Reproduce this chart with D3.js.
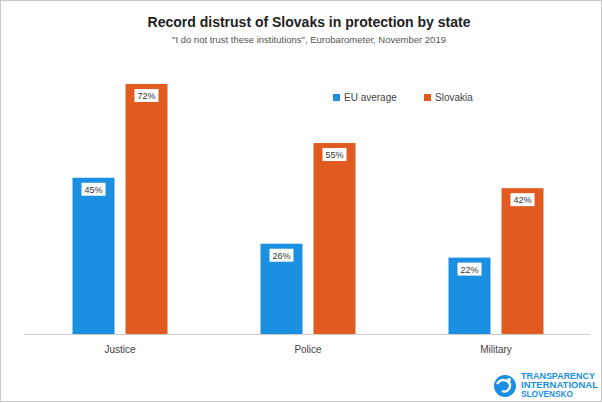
<!DOCTYPE html>
<html><head><meta charset="utf-8">
<script src="https://cdn.jsdelivr.net/npm/d3@7"></script>
<style>html,body{margin:0;padding:0;background:#fff;}svg{display:block;font-family:"Liberation Sans",Arial,sans-serif;}</style>
</head><body>
<svg id="c" width="602" height="403"></svg>
<script>
const categories = ["Justice", "Police", "Military"];
const seriesNames = ["EU average", "Slovakia"];
const euAverage = [45, 26, 22];
const slovakia = [72, 55, 42];
const colors = ["#1b8fe2", "#e15a20"];

const svg = d3.select("#c");
const W = 602, H = 403;
svg.append("rect").attr("x",0.5).attr("y",0.5).attr("width",W-1).attr("height",H-2)
  .attr("fill","#fff").attr("stroke","#c8c8c8");

const baseY = 334;
const x = d3.scaleBand().domain(categories).range([26, 590]);
const y = d3.scaleLinear().domain([0, 72]).range([baseY, 84]);

svg.append("text").attr("x",309).attr("y",27).attr("text-anchor","middle")
  .attr("font-size",14).attr("font-weight","bold").attr("fill","#222")
  .text("Record distrust of Slovaks in protection by state");
svg.append("text").attr("x",309).attr("y",43).attr("text-anchor","middle")
  .attr("font-size",9.5).attr("fill","#555")
  .text("\"I do not trust these institutions\", Eurobarometer, November 2019");

// axis
const xAxis = d3.axisBottom(x).tickSize(0).tickPadding(12);
const ax = svg.append("g").attr("transform",`translate(0,${baseY})`).call(xAxis);
ax.select(".domain").attr("stroke","#ccc").attr("d","M24,0.5H590");
ax.selectAll("text").attr("font-size",10).attr("fill","#444").attr("font-family","Liberation Sans, Arial, sans-serif");

const data = categories.map((c,i)=>({cat:c, vals:[euAverage[i], slovakia[i]]}));
const barW = 42, gap = 11;
data.forEach(d=>{
  const cx = x(d.cat) + x.bandwidth()/2;
  d.vals.forEach((v,j)=>{
    const bx = j===0 ? cx - gap/2 - barW : cx + gap/2;
    svg.append("rect").attr("x",bx).attr("y",y(v)).attr("width",barW).attr("height",baseY - y(v))
      .attr("fill",colors[j]);
    svg.append("rect").attr("x",bx+barW/2-12).attr("y",y(v)+5).attr("width",24).attr("height",13)
      .attr("fill","#fff");
    svg.append("text").attr("x",bx+barW/2).attr("y",y(v)+15).attr("text-anchor","middle")
      .attr("font-size",9).attr("fill","#333").text(v+"%");
  });
});

// legend
const legX = [333, 424];
seriesNames.forEach((s,j)=>{
  svg.append("rect").attr("x",legX[j]).attr("y",94).attr("width",7).attr("height",7).attr("fill",colors[j]);
  svg.append("text").attr("x",legX[j]+11).attr("y",101).attr("font-size",10).attr("fill","#444").text(s);
});

// logo
const lg = svg.append("g");
lg.append("circle").attr("cx",505).attr("cy",386).attr("r",11).attr("fill","#1b8fe2");
lg.append("path").attr("d","M497,384 q4,-6 10,-3 q5,3 2,8 q-3,4 -7,2").attr("fill","none").attr("stroke","#fff").attr("stroke-width",2.2);
lg.append("circle").attr("cx",509).attr("cy",380).attr("r",2).attr("fill","#fff");
const logoText = ["TRANSPARENCY","INTERNATIONAL","SLOVENSKO"];
logoText.forEach((t,i)=>{
  lg.append("text").attr("x",521).attr("y",379+i*9).attr("font-size",9).attr("font-weight","bold")
    .attr("fill","#1b8fe2").attr("textLength", i===2?52:(i===0?74:77)).attr("lengthAdjust","spacingAndGlyphs").text(t);
});
</script>
</body></html>
